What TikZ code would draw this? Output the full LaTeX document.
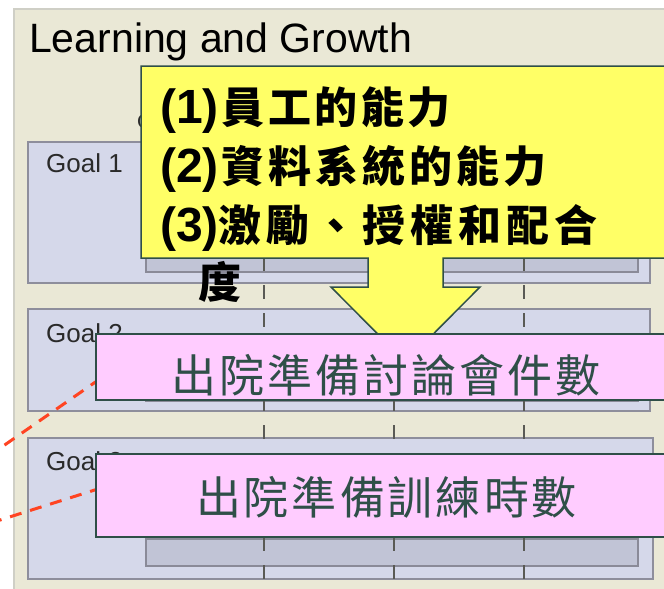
\documentclass[tikz,border=0pt]{standalone}
\usepackage{fontspec}
\setmainfont{Liberation Sans}
\newfontfamily\cjk{Noto Sans CJK TC}
\definecolor{panelbeige}{HTML}{EAE8D6}
\definecolor{panelline}{HTML}{CFCFC6}
\definecolor{goalfill}{HTML}{D5D8EA}
\definecolor{goalline}{HTML}{8E8E9C}
\definecolor{barfill}{HTML}{C1C4D6}
\definecolor{barline}{HTML}{8A8A98}
\definecolor{gridgray}{HTML}{5A5A55}
\definecolor{linkred}{HTML}{FF4422}
\definecolor{slate}{HTML}{2F4F48}
\definecolor{calloutyellow}{HTML}{FFFF66}
\definecolor{boxpink}{HTML}{FFCCFF}
\definecolor{labelgray}{HTML}{2A2A2A}
\makeatletter
\def\gapped#1#2{\def\gap@amt{#1}\gap@first#2\relax}
\def\gap@first#1{#1\gap@rest}
\def\gap@rest#1{\ifx#1\relax\else\hskip\gap@amt\relax#1\expandafter\gap@rest\fi}
\makeatother
\begin{document}
\begin{tikzpicture}[x=1pt,y=-1pt,
  goalbox/.style={draw=goalline, fill=goalfill, line width=1.5pt},
  innerbar/.style={draw=barline, fill=barfill, line width=1.3pt},
  gridline/.style={draw=gridgray, line width=1.3pt, dash pattern=on 14pt off 14pt},
  redlink/.style={draw=linkred, line width=3pt, dash pattern=on 12pt off 9pt},
  callout/.style={draw=slate, fill=calloutyellow, line width=1.5pt, line join=miter},
  pinkbox/.style={draw=slate, fill=boxpink, line width=1.5pt, inner sep=0pt, anchor=north west},
  goallabel/.style={anchor=base west, inner sep=0pt, text=labelgray, font=\fontsize{26pt}{26pt}\selectfont},
  yline/.style={anchor=base west, inner sep=0pt, text=black, font=\fontsize{48pt}{48pt}\selectfont\bfseries},
  pinktext/.style={anchor=base, inner sep=0pt, text=slate, font=\fontsize{45pt}{45pt}\selectfont\cjk},
]
\clip (0,0) rectangle (664,589);
\fill[white] (0,0) rectangle (664,589);
% panel
\draw[fill=panelbeige, draw=panelline, line width=2pt] (14,9) rectangle (700,620);
\node[anchor=base west, inner sep=0pt, text=black, font=\fontsize{41pt}{41pt}\selectfont] (title) at (29,52) {Learning and Growth};
\node[goallabel, font=\fontsize{20pt}{20pt}\selectfont] (hidden) at (137,128) {G};
% goal boxes
\draw[goalbox] (28,142) rectangle (650,283);
\draw[innerbar] (146,245) rectangle (638,272);
\draw[goalbox] (28,309) rectangle (650,411);
\draw[innerbar] (146,370) rectangle (638,401);
\draw[goalbox] (28,438) rectangle (653,579);
\draw[innerbar] (146,539) rectangle (638,566);
\node[goallabel] (g1) at (46,172) {Goal 1};
\node[goallabel] (g2) at (46,342) {Goal 2};
\node[goallabel] (g3) at (46,470) {Goal 3};
% grid lines
\foreach \gx/\gn in {264/a,394/b,524/c}{
  \coordinate (top\gn) at (\gx,145);
  \coordinate (bot\gn) at (\gx,600);
  \draw[gridline] (top\gn) -- (bot\gn);
}
% red links
\coordinate (r1s) at (-30,469);
\coordinate (r1e) at (120,365);
\coordinate (r2s) at (-30,529.5);
\coordinate (r2e) at (120,482);
\draw[redlink] (r1s) -- (r1e);
\draw[redlink] (r2s) -- (r2e);
% callout
\draw[callout] (141,66) -- (690,66) -- (690,258) -- (443,258) -- (443,287) -- (480,287)
  -- (405.5,362) -- (331,287) -- (368,287) -- (368,258) -- (141,258) -- cycle;
\node[yline] (l1) at (160,123) {(1)\kern3pt{\cjk\fontsize{43pt}{43pt}\selectfont\gapped{3.5pt}{員工的能力}}};
\node[yline] (l2) at (160,182) {(2)\kern3pt{\cjk\fontsize{43pt}{43pt}\selectfont\gapped{4pt}{資料系統的能力}}};
\node[yline] (l3) at (160,241) {(3)\kern0pt{\cjk\fontsize{43pt}{43pt}\selectfont\gapped{5pt}{激勵、授權和配合}}};
\node[yline] (l4) at (198,298) {{\cjk\fontsize{43pt}{43pt}\selectfont 度}};
% pink boxes
\node[pinkbox, minimum width=600pt, minimum height=66pt] (boxA) at (95,333) {};
\node[pinktext] (textA) at (386,392) {\gapped{3pt}{出院準備討論會件數}};
\node[pinkbox, minimum width=600pt, minimum height=83pt] (boxB) at (95,453) {};
\node[pinktext] (textB) at (386.5,514) {\gapped{3pt}{出院準備訓練時數}};
\end{tikzpicture}
\end{document}
